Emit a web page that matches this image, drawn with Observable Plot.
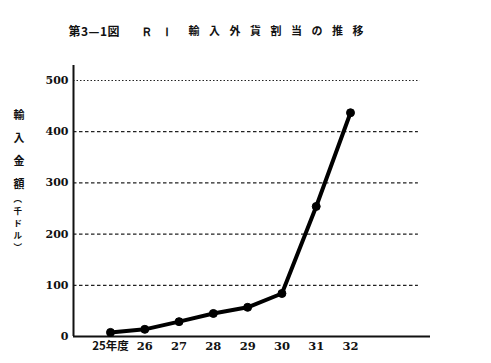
<!DOCTYPE html>
<html><head><meta charset="utf-8">
<script src="https://cdn.jsdelivr.net/npm/d3@7"></script>
<script src="https://cdn.jsdelivr.net/npm/@observablehq/plot@0.6"></script>
<style>
html,body{margin:0;padding:0;background:#fff;}
svg{display:block;}
</style>
</head><body>
<div id="chart"></div>
<script>
const years = [25, 26, 27, 28, 29, 30, 31, 32];
const values = [8, 14, 29, 45, 57, 84, 254, 437];
const yTicks = [0, 100, 200, 300, 400, 500];
const gridValues = [100, 200, 300, 400];
const topGrid = [500];
const xLabels = ["25年度", "26", "27", "28", "29", "30", "31", "32"];
const titleA = "第3—1図";
const titleB = "ＲＩ";
const titleC = "輸入外貨割当の推移";
const yLabel = "輸\n入\n金\n額";
const yUnit = "︵\n千\nド\nル\n︶";

const data = years.map((y, i) => ({year: y, value: values[i]}));
const xDomain = [23.921, 34.333];
const gridEnd = 33.98;
const serif = "'DejaVu Serif', 'Liberation Serif', serif";
const cjk = "'Noto Sans CJK JP', sans-serif";

const chart = Plot.plot({
  width: 491,
  height: 363,
  marginLeft: 73,
  marginRight: 61,
  marginTop: 65,
  marginBottom: 27,
  style: {background: "#fff", color: "#111"},
  x: {domain: xDomain},
  y: {domain: [0, 529.3]},
  marks: [
    Plot.ruleY(gridValues, {x1: xDomain[0], x2: gridEnd, stroke: "#222", strokeWidth: 1.3, strokeDasharray: "3.5,2.5"}),
    Plot.ruleY(topGrid, {x1: xDomain[0], x2: gridEnd + 0.05, stroke: "#222", strokeWidth: 1.2, strokeDasharray: "1.5,2"}),
    Plot.axisY(yTicks, {tickSize: 0, tickPadding: 5, fontSize: 11, fontWeight: "bold", fill: "#111", label: null}),
    Plot.axisX(years, {tickSize: 0, tickPadding: 5, fontSize: 11.5, fontWeight: "bold", fill: "#111", label: null,
      tickFormat: (d) => xLabels[years.indexOf(d)]}),
    Plot.ruleX([xDomain[0]], {stroke: "#111", strokeWidth: 2}),
    Plot.ruleY([0], {stroke: "#111", strokeWidth: 2}),
    Plot.line(data, {x: "year", y: "value", stroke: "#000", strokeWidth: 4, strokeLinejoin: "round"}),
    Plot.dot(data, {x: "year", y: "value", r: 4, fill: "#000", stroke: "#000", strokeWidth: 1}),
    Plot.text([titleA], {frameAnchor: "top-left", dx: -5, dy: -38, textAnchor: "start", fontSize: 12, fontWeight: "bold", fill: "#111"}),
    Plot.text([titleB], {frameAnchor: "top-left", dx: 67, dy: -38, textAnchor: "start", fontSize: 12, fontWeight: "bold", fill: "#111"}),
    Plot.text([titleC], {frameAnchor: "top-left", dx: 115, dy: -38, textAnchor: "start", fontSize: 11, fontWeight: "bold", fill: "#111"}),
    Plot.text([yLabel], {frameAnchor: "top-left", dx: -60, dy: 37, lineHeight: 2.1, fontSize: 11, fontWeight: "bold", fill: "#111"}),
    Plot.text([yUnit], {frameAnchor: "top-left", dx: -60, dy: 128, lineHeight: 1.4, fontSize: 8.5, fontWeight: "bold", fill: "#111"})
  ]
});
document.getElementById("chart").appendChild(chart);
// fonts & spacing
const svg = d3.select(chart);
svg.selectAll("text").each(function() {
  const t = this.textContent;
  const el = d3.select(this);
  const hasCJK = /[\u3000-\u9fff\uff00-\uffef\ufe30-\ufe4f]/.test(t);
  el.style("font-family", hasCJK && !/^[ＲＩ]+$/.test(t) ? cjk : serif);
  if (t === titleC) el.style("letter-spacing", "9.5px");
  if (t === titleB) el.style("letter-spacing", "8px");
  if (t === titleA) el.style("letter-spacing", "0.5px");
});
</script>
</body></html>
